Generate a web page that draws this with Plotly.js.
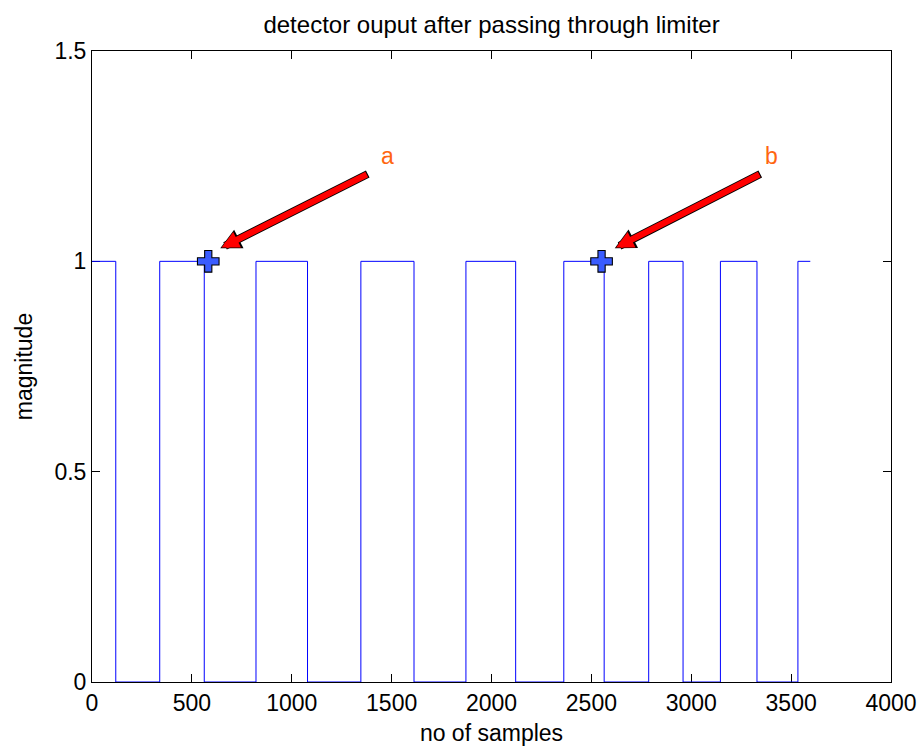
<!DOCTYPE html>
<html>
<head>
<meta charset="utf-8">
<script src="https://cdn.plot.ly/plotly-3.0.1.min.js"></script>
<style>html,body{margin:0;padding:0;background:#fff;}#chart{width:924px;height:751px;}</style>
</head>
<body>
<div id="chart"></div>
<script>
// Limiter output: switching instants (samples) and levels
const edgeSamples = [0, 119, 339, 562, 821, 1079, 1346, 1612, 1872, 2121, 2362, 2564, 2787, 2959, 3146, 3329, 3534, 3596];
const levels      = [1, 0, 1, 0, 1, 0, 1, 0, 1, 0, 1, 0, 1, 0, 1, 0, 1, 1];
// Marked points
const markX = [582, 2551];
const markY = [1, 1];
const markLabels = ['a', 'b'];
// Axis ticks
const xTicks = [0, 500, 1000, 1500, 2000, 2500, 3000, 3500, 4000];
const yTicks = [0, 0.5, 1, 1.5];
const yTickText = ['0', '0.5', '1', '1.5'];

const FONT = 'Liberation Sans, Arial, sans-serif';

const traces = [
  {
    x: edgeSamples, y: levels, type: 'scatter', mode: 'lines',
    line: {shape: 'hv', color: '#0000ff', width: 1},
    hoverinfo: 'skip', showlegend: false
  },
  {
    x: markX, y: markY, type: 'scatter', mode: 'markers',
    marker: {symbol: 'cross', size: 18, color: '#3a5cff', line: {color: '#000', width: 1.1}},
    cliponaxis: false, showlegend: false
  }
];

// arrow heads (data) and tail offsets (px), text positions
const arrowHeadX = [642, 2617];
const arrowHeadY = [1.031, 1.031];
const arrowAX = [149, 147];
const arrowAY = [-75, -75];
const textX = [1477, 3401];
const textY = [1.251, 1.251];

const annotations = [];
for (let i = 0; i < markX.length; i++) {
  annotations.push({
    x: arrowHeadX[i], y: arrowHeadY[i], xref: 'x', yref: 'y',
    ax: arrowAX[i], ay: arrowAY[i], axref: 'pixel', ayref: 'pixel',
    text: '', showarrow: true, arrowhead: 2, arrowsize: 0.52, arrowwidth: 8,
    arrowcolor: '#000'
  });
  annotations.push({
    x: arrowHeadX[i], y: arrowHeadY[i], xref: 'x', yref: 'y',
    ax: arrowAX[i] - 1, ay: arrowAY[i] + 0.5, axref: 'pixel', ayref: 'pixel',
    text: '', showarrow: true, arrowhead: 2, arrowsize: 0.55, arrowwidth: 6.3,
    arrowcolor: '#ff0000', standoff: 1.5
  });
  annotations.push({
    x: textX[i], y: textY[i], xref: 'x', yref: 'y',
    text: markLabels[i], showarrow: false,
    font: {family: FONT, size: 23, color: '#ff6610'}
  });
}

const layout = {
  width: 924, height: 751,
  margin: {l: 92, r: 33, t: 51, b: 69, pad: 0},
  paper_bgcolor: '#fff', plot_bgcolor: '#fff',
  font: {family: FONT, size: 22, color: '#000'},
  title: {text: 'detector ouput after passing through limiter', x: 0.532, xanchor: 'center', y: 0.967, yanchor: 'middle',
          font: {family: FONT, size: 24, color: '#000'}},
  xaxis: {
    range: [0, 4000], tickvals: xTicks, ticktext: xTicks.map(String),
    ticks: 'inside', ticklen: 8, tickcolor: '#000', tickwidth: 1,
    showline: true, linecolor: '#000', linewidth: 1, mirror: 'ticks',
    showgrid: false, zeroline: false, layer: 'below traces',
    tickfont: {family: FONT, size: 23, color: '#000'},
    title: {text: 'no of samples', font: {family: FONT, size: 23, color: '#000'}, standoff: 10}
  },
  yaxis: {
    range: [0, 1.5], tickvals: yTicks, ticktext: yTickText,
    ticks: 'inside', ticklen: 8, tickcolor: '#000', tickwidth: 1,
    showline: true, linecolor: '#000', linewidth: 1, mirror: 'ticks',
    showgrid: false, zeroline: false, layer: 'below traces',
    tickfont: {family: FONT, size: 23, color: '#000'},
    title: {text: 'magnitude', font: {family: FONT, size: 23, color: '#000'}, standoff: 15}
  },
  annotations: annotations,
  showlegend: false
};

Plotly.newPlot('chart', traces, layout, {displayModeBar: false, staticPlot: true});
</script>
</body>
</html>
